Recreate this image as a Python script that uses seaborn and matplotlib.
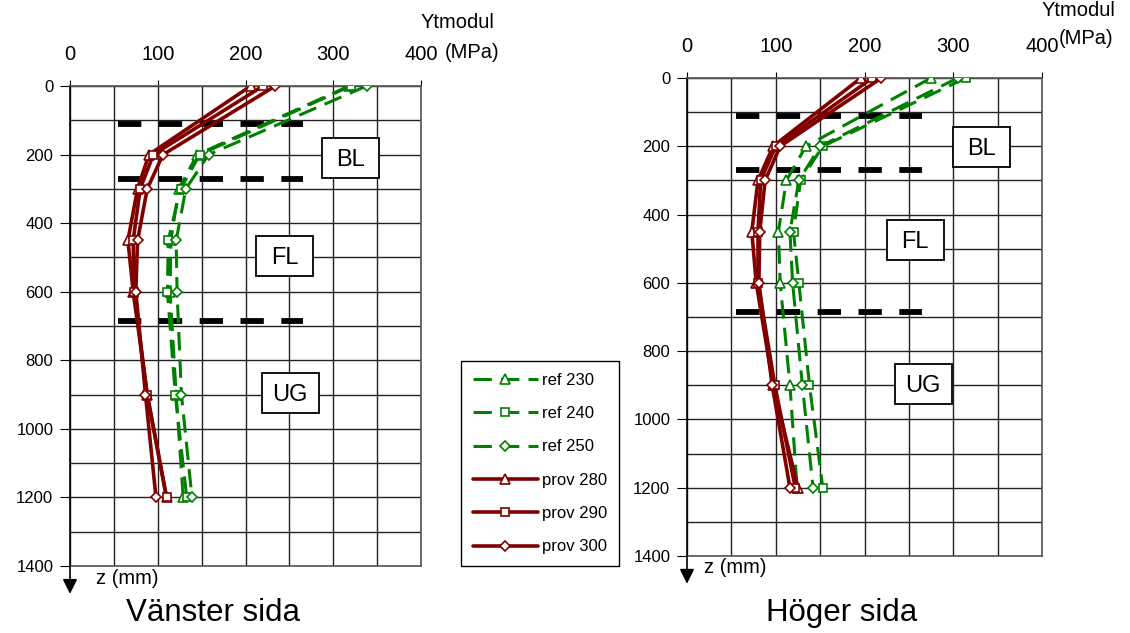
import numpy as np
import pandas as pd
import matplotlib
matplotlib.use("Agg")
import matplotlib.pyplot as plt
from matplotlib.patches import Rectangle
import seaborn as sns

sns.set_style("white")
plt.rcParams['font.family'] = ['Liberation Sans', 'DejaVu Sans']
plt.rcParams['text.color'] = 'black'
plt.rcParams['xtick.color'] = 'black'
plt.rcParams['ytick.color'] = 'black'

# ---- data ----
z = [0, 200, 300, 450, 600, 900, 1200]
series_names = ["ref 230", "ref 240", "ref 250", "prov 280", "prov 290", "prov 300"]

left_ref230 = [318, 145, 124, 115, 114, 121, 129]
left_ref240 = [320, 148, 126, 112, 111, 120, 133]
left_ref250 = [338, 158, 132, 121, 122, 127, 139]
left_prov280 = [206, 90, 77, 66, 72, 88, 110]
left_prov290 = [220, 95, 80, 72, 73, 88, 110]
left_prov300 = [234, 106, 88, 77, 75, 86, 98]

right_ref230 = [275, 134, 112, 103, 105, 116, 124]
right_ref240 = [314, 153, 128, 120, 126, 138, 153]
right_ref250 = [305, 150, 126, 116, 119, 130, 142]
right_prov280 = [196, 97, 80, 73, 78, 97, 125]
right_prov290 = [209, 100, 83, 80, 80, 99, 122]
right_prov300 = [219, 105, 88, 82, 81, 96, 116]

layer_z = [110, 270, 685]
layer_x = [55, 265]
left_labels = [("BL", 320, 210), ("FL", 245, 495), ("UG", 251, 895)]
right_labels = [("BL", 332, 202), ("FL", 257, 474), ("UG", 266, 896)]

x_ticks = [0, 100, 200, 300, 400]
y_ticks = [0, 200, 400, 600, 800, 1000, 1200, 1400]

GREEN = "#008000"
RED = "#800000"
markers = ["^", "s", "D", "^", "s", "D"]
msizes = [7, 6, 5, 7, 6, 5]

fig = plt.figure(figsize=(11.3, 6.33), dpi=100)
axL = fig.add_axes([70/1130, 1-566/633, 351/1130, 480/633])
axR = fig.add_axes([687/1130, 1-556/633, 355/1130, 478/633])


def draw(ax, vals, labels, box_w, box_h):
    for i, (name, v) in enumerate(zip(series_names, vals)):
        df = pd.DataFrame({"x": v, "z": z})
        is_ref = i < 3
        col = GREEN if is_ref else RED
        sns.lineplot(data=df, x="x", y="z", sort=False, estimator=None, ax=ax,
                     color=col, lw=2.2 if is_ref else 2.6,
                     linestyle=(0, (6, 3)) if is_ref else "-",
                     marker=markers[i], markersize=msizes[i], markerfacecolor="white",
                     markeredgecolor=col, markeredgewidth=1.2, label=name, zorder=4)
    for lz in layer_z:
        ax.plot(layer_x, [lz, lz], color="black", lw=4.2, linestyle=(0, (4, 3)), zorder=3)
    for t, x, y in labels:
        ax.add_patch(Rectangle((x - box_w/2, y - box_h/2), box_w, box_h, fc="white",
                               ec="black", lw=1.3, zorder=5))
        ax.text(x, y, t, fontsize=17, ha="center", va="center_baseline", zorder=6)
    ax.set_xlim(0, 400)
    ax.set_ylim(1400, 0)
    ax.xaxis.tick_top()
    ax.set_xticks(x_ticks)
    ax.set_xticks(np.arange(0, 401, 50), minor=True)
    ax.set_yticks(y_ticks)
    ax.set_yticks(np.arange(0, 1401, 100), minor=True)
    ax.grid(which="both", color="#222222", lw=1)
    ax.set_axisbelow(True)
    ax.tick_params(axis="x", which="major", direction="out", length=4, pad=12,
                   labelsize=14.5, top=True, bottom=False, color="black")
    ax.tick_params(axis="x", which="minor", length=0)
    ax.tick_params(axis="y", which="major", direction="out", length=7, pad=5,
                   labelsize=12, left=True, color="black")
    ax.tick_params(axis="y", which="minor", length=0)
    ax.set_xlabel("")
    ax.set_ylabel("")
    for s in ax.spines.values():
        s.set_color("#555555")
        s.set_linewidth(1.2)
    ax.spines["left"].set_color("black")
    leg = ax.get_legend()
    if leg is not None:
        leg.remove()
    ax.annotate("", xy=(0, -0.058), xytext=(0, 0), xycoords="axes fraction",
                arrowprops=dict(arrowstyle="-|>", color="black", lw=1.2,
                                mutation_scale=22, shrinkA=0, shrinkB=0))


draw(axL, [left_ref230, left_ref240, left_ref250, left_prov280, left_prov290, left_prov300],
     left_labels, 57/0.8775, 40/0.343)
draw(axR, [right_ref230, right_ref240, right_ref250, right_prov280, right_prov290, right_prov300],
     right_labels, 57/0.8875, 40/0.341)

axL.text((127-70)/351, -0.025, "z (mm)", transform=axL.transAxes,
         fontsize=14.5, ha="center", va="center")
axR.text((735-687)/355, -0.025, "z (mm)", transform=axR.transAxes,
         fontsize=14.5, ha="center", va="center")

fig.text(472/1130, 1-53/633, "(MPa)", fontsize=14.5, ha="center", va="center")
fig.text(458/1130, 1-22/633, "Ytmodul", fontsize=14.5, ha="center", va="center")
fig.text(1086/1130, 1-38/633, "(MPa)", fontsize=14.5, ha="center", va="center")
fig.text(1079/1130, 1-10/633, "Ytmodul", fontsize=14.5, ha="center", va="center")

fig.text(213/1130, 1-613/633, "Vänster sida", fontsize=22.5, ha="center", va="center")
fig.text(842/1130, 1-613/633, "Höger sida", fontsize=22.5, ha="center", va="center")

handles = axL.get_lines()[:6]
fig.legend(handles, series_names, loc="upper left", bbox_to_anchor=(461/1130, 1-361/633),
           frameon=True, fancybox=False, edgecolor="black", fontsize=12,
           handlelength=3.9, labelspacing=1.1, borderpad=0.7, handletextpad=0.25,
           borderaxespad=0, framealpha=1)

fig.savefig("out.png", dpi=100)
